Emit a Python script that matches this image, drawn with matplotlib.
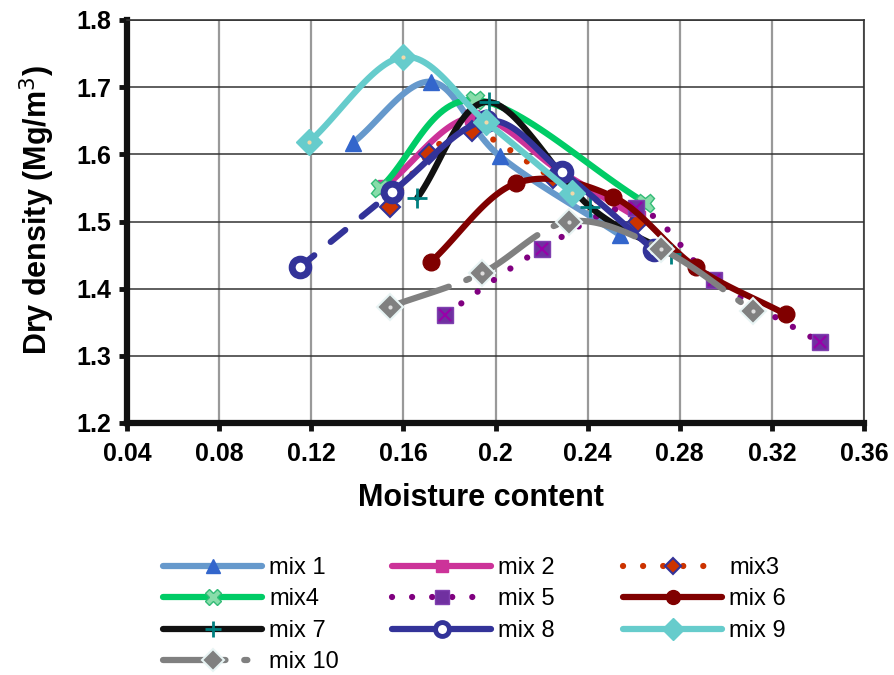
import numpy as np
import matplotlib
matplotlib.use("Agg")
import matplotlib.pyplot as plt
from matplotlib.lines import Line2D

plt.rcParams['font.family'] = ['Liberation Sans', 'DejaVu Sans']

# compaction curves: moisture content vs dry density (Mg/m3)
mix1_x = [0.138, 0.172, 0.202, 0.254]
mix1_y = [1.617, 1.708, 1.597, 1.480]
mix2_x = [0.152, 0.190, 0.228, 0.262]
mix2_y = [1.552, 1.655, 1.575, 1.505]
mix3_x = [0.154, 0.171, 0.190, 0.225, 0.262]
mix3_y = [1.522, 1.600, 1.635, 1.565, 1.500]
mix4_x = [0.150, 0.191, 0.265]
mix4_y = [1.550, 1.681, 1.528]
mix5_x = [0.178, 0.220, 0.261, 0.295, 0.341]
mix5_y = [1.361, 1.459, 1.520, 1.413, 1.320]
mix6_x = [0.172, 0.209, 0.251, 0.287, 0.326]
mix6_y = [1.440, 1.557, 1.537, 1.432, 1.362]
mix7_x = [0.166, 0.197, 0.241, 0.276]
mix7_y = [1.535, 1.678, 1.522, 1.452]
mix8_x = [0.115, 0.155, 0.196, 0.229, 0.269]
mix8_y = [1.432, 1.544, 1.650, 1.574, 1.457]
mix9_x = [0.119, 0.160, 0.196, 0.233]
mix9_y = [1.618, 1.745, 1.648, 1.543]
mix10_x = [0.154, 0.194, 0.232, 0.272, 0.312]
mix10_y = [1.373, 1.423, 1.500, 1.459, 1.367]

x_ticks = [0.04, 0.08, 0.12, 0.16, 0.2, 0.24, 0.28, 0.32, 0.36]
x_tick_labels = ['0.04', '0.08', '0.12', '0.16', '0.2', '0.24', '0.28', '0.32', '0.36']
y_ticks = [1.2, 1.3, 1.4, 1.5, 1.6, 1.7, 1.8]


def smooth(x, y, n=30):
    # catmull-rom curve through the measured points (like excel's smoothed line)
    x = np.asarray(x, float)
    y = np.asarray(y, float)
    px = np.concatenate([[2 * x[0] - x[1]], x, [2 * x[-1] - x[-2]]])
    py = np.concatenate([[2 * y[0] - y[1]], y, [2 * y[-1] - y[-2]]])
    t = np.linspace(0, 1, n)
    xs, ys = [], []
    for i in range(1, len(px) - 2):
        for p, out in ((px, xs), (py, ys)):
            p0, p1, p2, p3 = p[i - 1], p[i], p[i + 1], p[i + 2]
            out.append(0.5 * (2 * p1 + (-p0 + p2) * t
                              + (2 * p0 - 5 * p1 + 4 * p2 - p3) * t ** 2
                              + (-p0 + 3 * p1 - 3 * p2 + p3) * t ** 3))
    return np.concatenate(xs), np.concatenate(ys)


fig = plt.figure(figsize=(8.94, 6.75), dpi=100)
ax = fig.add_axes([127 / 894, 1 - 423 / 675, 737 / 894, 403 / 675])

lw = 4.5
dotted = (0, (0.01, 3.2))
series = [
    dict(x=mix1_x, y=mix1_y, label='mix 1', color='#6699CC', ls='-',
         marker='^', ms=12, mfc='#3366CC', mec='#3366CC', mew=1),
    dict(x=mix2_x, y=mix2_y, label='mix 2', color='#CC3399', ls='-',
         marker='s', ms=10, mfc='#CC3399', mec='#CC3399', mew=1),
    dict(x=mix3_x, y=mix3_y, label='mix3', color='#CC3300', ls=dotted,
         marker='D', ms=10, mfc='#CC3300', mec='#333399', mew=1.5),
    dict(x=mix4_x, y=mix4_y, label='mix4', color='#00CC66', ls='-',
         marker='X', ms=13, mfc='#88DDAA', mec='#33BB77', mew=1),
    dict(x=mix5_x, y=mix5_y, label='mix 5', color='#800080', ls=dotted,
         marker='s', ms=12, mfc='#7030A0', mec='#8040B0', mew=1),
    dict(x=mix6_x, y=mix6_y, label='mix 6', color='#800000', ls='-',
         marker='o', ms=12, mfc='#800000', mec='#800000', mew=1),
    dict(x=mix7_x, y=mix7_y, label='mix 7', color='#111111', ls='-',
         marker='+', ms=14, mfc='#008080', mec='#008080', mew=2),
    dict(x=mix8_x, y=mix8_y, label='mix 8', color='#333399', ls='-',
         marker='o', ms=12, mfc='white', mec='#333399', mew=5),
    dict(x=mix9_x, y=mix9_y, label='mix 9', color='#66CCCC', ls='-',
         marker='D', ms=13, mfc='#66CCCC', mec='#66CCCC', mew=1),
    dict(x=mix10_x, y=mix10_y, label='mix 10', color='#808080', ls=(0, (10, 3, 0.5, 3)),
         marker='D', ms=13, mfc='#808080', mec='#E8F4F4', mew=1.5),
]

handles = []
for k, s in enumerate(series):
    z = 3 + k
    if s['label'] == 'mix 8':
        # first segment is dashed, the rest solid
        fx, fy = smooth(s['x'][:2], s['y'][:2])
        ax.plot(fx, fy, color=s['color'], lw=lw, ls=(0, (3, 3.4)),
                dash_capstyle='round', zorder=z)
        sx, sy = smooth(s['x'][1:], s['y'][1:])
        ax.plot(sx, sy, color=s['color'], lw=lw, solid_capstyle='round', zorder=z)
    else:
        sx, sy = smooth(s['x'], s['y'])
        ax.plot(sx, sy, color=s['color'], lw=lw, ls=s['ls'],
                dash_capstyle='round', solid_capstyle='round', zorder=z)
    ax.plot(s['x'], s['y'], ls='none', marker=s['marker'], ms=s['ms'],
            mfc=s['mfc'], mec=s['mec'], mew=s['mew'], zorder=z + 0.5)
    if s['label'] == 'mix 5':
        ax.plot(s['x'], s['y'], ls='none', marker='x', ms=9, mec='#9900AA',
                mew=1.5, zorder=z + 0.6)
    if s['label'] in ('mix 9', 'mix 10'):
        ax.plot(s['x'], s['y'], ls='none', marker='o', ms=3,
                mfc='#F0D8A8' if s['label'] == 'mix 9' else '#DDDDDD',
                mec='none', zorder=z + 0.6)
    handles.append(Line2D([], [], color=s['color'], lw=lw, ls=s['ls'],
                          dash_capstyle='round', solid_capstyle='round',
                          marker=s['marker'], ms=s['ms'] - 2, mfc=s['mfc'],
                          mec=s['mec'], mew=min(s['mew'], 3.5), label=s['label']))

ax.set_xlim(0.04, 0.36)
ax.set_ylim(1.2, 1.8)
ax.set_xticks(x_ticks)
ax.set_xticklabels(x_tick_labels)
ax.set_yticks(y_ticks)
ax.set_yticklabels(['%.1f' % v for v in y_ticks])

ax.grid(axis='x', color='#999999', lw=1.6, zorder=0)
ax.grid(axis='y', color='#333333', lw=1.1, zorder=0)
for side in ('left', 'bottom'):
    ax.spines[side].set_linewidth(4.5)
    ax.spines[side].set_color('#111111')
for side in ('top', 'right'):
    ax.spines[side].set_linewidth(1.2)
    ax.spines[side].set_color('#333333')
ax.tick_params(direction='out', length=6, width=3.5, color='#111111',
               labelsize=18)
ax.tick_params(axis='x', pad=8)
ax.tick_params(axis='y', pad=5)
for lab in ax.get_xticklabels() + ax.get_yticklabels():
    lab.set_fontweight('bold')

ax.set_xlabel('Moisture content', fontsize=22, fontweight='bold')
ax.set_ylabel('Dry density (Mg/m$^3$)', fontsize=22, fontweight='bold')
ax.xaxis.set_label_coords((481 - 127) / 737, (423 - 498) / 403)
ax.xaxis.label.set_va('center')
ax.yaxis.set_label_coords((37 - 127) / 737, (423 - 210) / 403)
ax.yaxis.label.set_va('center')

# one legend block per column so the columns sit at fixed positions
columns = [[0, 3, 6, 9], [1, 4, 7], [2, 5, 8]]
col_left = [163, 392, 623]
for idx, left in zip(columns, col_left):
    fig.legend([handles[i] for i in idx], [handles[i].get_label() for i in idx],
               loc='upper left', bbox_to_anchor=(left / 894, 1 - 557 / 675),
               frameon=False, fontsize=17, handlelength=4.2, handletextpad=0.3,
               labelspacing=0.4, borderpad=0, borderaxespad=0, numpoints=1)

fig.savefig('out.png', dpi=100)
